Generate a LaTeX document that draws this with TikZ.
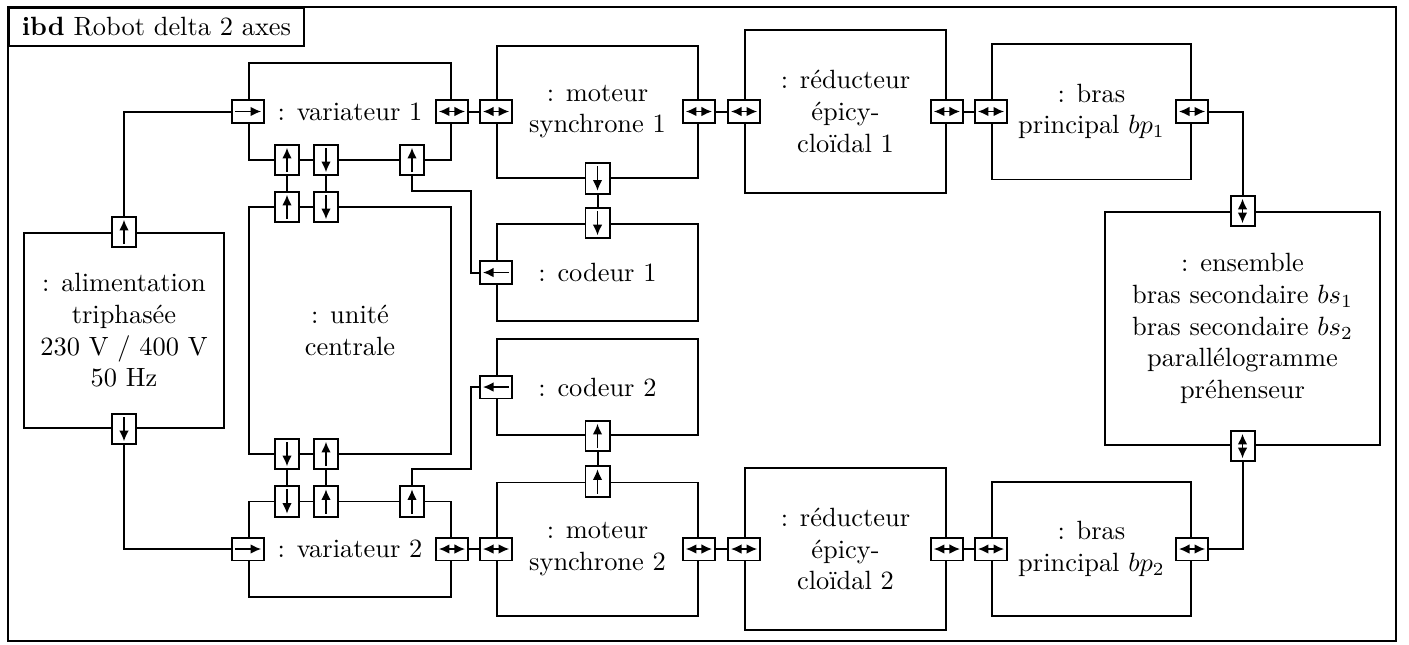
\documentclass[tikz,border=0pt]{standalone}
\usepackage{fontspec}
\usetikzlibrary{arrows.meta,calc}

\tikzset{
  block/.style={draw, align=center, inner sep=0pt},
  port/.style={draw, fill=white, inner sep=0pt},
  hport/.style={port, minimum width=12.1pt, minimum height=8.7pt,
    path picture={\draw[line width=0.5pt, >={Latex[length=4pt,width=3.6pt]}, #1]
      ([xshift=1.1pt]path picture bounding box.west)
      -- ([xshift=-1.1pt]path picture bounding box.east);}},
  vport/.style={port, minimum width=9.1pt, minimum height=11.4pt,
    path picture={\draw[line width=0.5pt, >={Latex[length=4pt,width=3.6pt]}, #1]
      ([yshift=1.1pt]path picture bounding box.south)
      -- ([yshift=-1.1pt]path picture bounding box.north);}},
}

\begin{document}
\begin{tikzpicture}[
    x=0.3788pt, y=-0.3788pt,
    line width=0.75pt,
    ]
    \useasboundingbox (0,0) rectangle (1409,644);

    % Frame and title
    \draw (8,7) rectangle (1396,641);
    \node[draw, anchor=north west, inner sep=0pt, minimum width=111.7pt, minimum height=14.4pt] (titre) at (8,7) {\textbf{ibd} Robot delta 2 axes};

    % Blocks
    \node[block, minimum width=75.8pt, minimum height=73.9pt] (alim) at (124,330.5) {: alimentation\\triphasée\\230 V / 400 V\\50 Hz};
    \node[block, minimum width=76.5pt, minimum height=36.7pt] (var1) at (350,111.5) {: variateur 1};
    \node[block, minimum width=76.5pt, minimum height=93.6pt] (uc) at (350,330.5) {: unité\\centrale};
    \node[block, minimum width=76.5pt, minimum height=36pt] (var2) at (350,549) {: variateur 2};
    \node[block, minimum width=76.1pt, minimum height=50pt] (mot1) at (597.5,111.5) {: moteur\\synchrone 1};
    \node[block, minimum width=76.1pt, minimum height=36.7pt] (cod1) at (597.5,272.5) {: codeur 1};
    \node[block, minimum width=76.1pt, minimum height=36.4pt] (cod2) at (597.5,387) {: codeur 2};
    \node[block, minimum width=76.1pt, minimum height=50.4pt] (mot2) at (597.5,549) {: moteur\\synchrone 2};
    \node[block, minimum width=76.1pt, minimum height=61.7pt] (red1) at (845.5,111.5) {: réducteur\\épicy-\\cloïdal 1};
    \node[block, minimum width=76.1pt, minimum height=61.4pt] (red2) at (845.5,549) {: réducteur\\épicy-\\cloïdal 2};
    \node[block, minimum width=75.4pt, minimum height=51.5pt] (bp1) at (1091.5,111.5) {: bras\\principal $bp_1$};
    \node[block, minimum width=75.4pt, minimum height=51.1pt] (bp2) at (1091.5,549) {: bras\\principal $bp_2$};
    \node[block, minimum width=104.2pt, minimum height=88.3pt] (ens) at (1242.5,328.5) {: ensemble\\bras secondaire $bs_1$\\bras secondaire $bs_2$\\parallélogramme\\préhenseur};

    % Ports, top row
    \node[vport=->] (alimT) at (alim.north) {};
    \node[vport=<-] (alimB) at (alim.south) {};
    \node[hport=->] (var1L) at (var1.west) {};
    \node[hport=<->] (var1R) at (var1.east) {};
    \node[vport=->] (var1A) at (287,160) {};
    \node[vport=<-] (var1B) at (326,160) {};
    \node[vport=->] (var1C) at (412,160) {};
    \node[hport=<->] (mot1L) at (mot1.west) {};
    \node[hport=<->] (mot1R) at (mot1.east) {};
    \node[vport=<-] (mot1B) at (mot1.south) {};
    \node[hport=<->] (red1L) at (red1.west) {};
    \node[hport=<->] (red1R) at (red1.east) {};
    \node[hport=<->] (bp1L) at (bp1.west) {};
    \node[hport=<->] (bp1R) at (bp1.east) {};

    % Ports, middle
    \node[vport=->] (ucA) at (287,207) {};
    \node[vport=<-] (ucB) at (326,207) {};
    \node[vport=<-] (ucC) at (287,454) {};
    \node[vport=->] (ucD) at (326,454) {};
    \node[vport=<-] (cod1T) at (cod1.north) {};
    \node[hport=<-] (cod1L) at (cod1.west) {};
    \node[hport=<-] (cod2L) at (cod2.west) {};
    \node[vport=->] (cod2B) at (cod2.south) {};
    \node[vport=<->] (ensT) at (ens.north) {};
    \node[vport=<->] (ensB) at (ens.south) {};

    % Ports, bottom row
    \node[hport=->] (var2L) at (var2.west) {};
    \node[hport=<->] (var2R) at (var2.east) {};
    \node[vport=<-] (var2A) at (287,501.5) {};
    \node[vport=->] (var2B) at (326,501.5) {};
    \node[vport=->] (var2C) at (412,501.5) {};
    \node[hport=<->] (mot2L) at (mot2.west) {};
    \node[hport=<->] (mot2R) at (mot2.east) {};
    \node[vport=->] (mot2T) at (mot2.north) {};
    \node[hport=<->] (red2L) at (red2.west) {};
    \node[hport=<->] (red2R) at (red2.east) {};
    \node[hport=<->] (bp2L) at (bp2.west) {};
    \node[hport=<->] (bp2R) at (bp2.east) {};

    % Connectors
    \draw (alimT.north) |- (var1L.west);
    \draw (alimB.south) |- (var2L.west);
    \draw (var1R) -- (mot1L);
    \draw (mot1R) -- (red1L);
    \draw (red1R) -- (bp1L);
    \draw (bp1R.east) -| (ensT.north);
    \draw (var2R) -- (mot2L);
    \draw (mot2R) -- (red2L);
    \draw (red2R) -- (bp2L);
    \draw (bp2R.east) -| (ensB.south);
    \draw (mot1B) -- (cod1T);
    \draw (cod2B) -- (mot2T);
    \draw (var1A) -- (ucA);
    \draw (var1B) -- (ucB);
    \draw (ucC) -- (var2A);
    \draw (ucD) -- (var2B);
    \draw (var1C.south) -- ++(0,15) -| ($(cod1L.west)+(-8,0)$) -- (cod1L.west);
    \draw (var2C.north) -- ++(0,-16) -| ($(cod2L.west)+(-8,0)$) -- (cod2L.west);

\end{tikzpicture}
\end{document}
